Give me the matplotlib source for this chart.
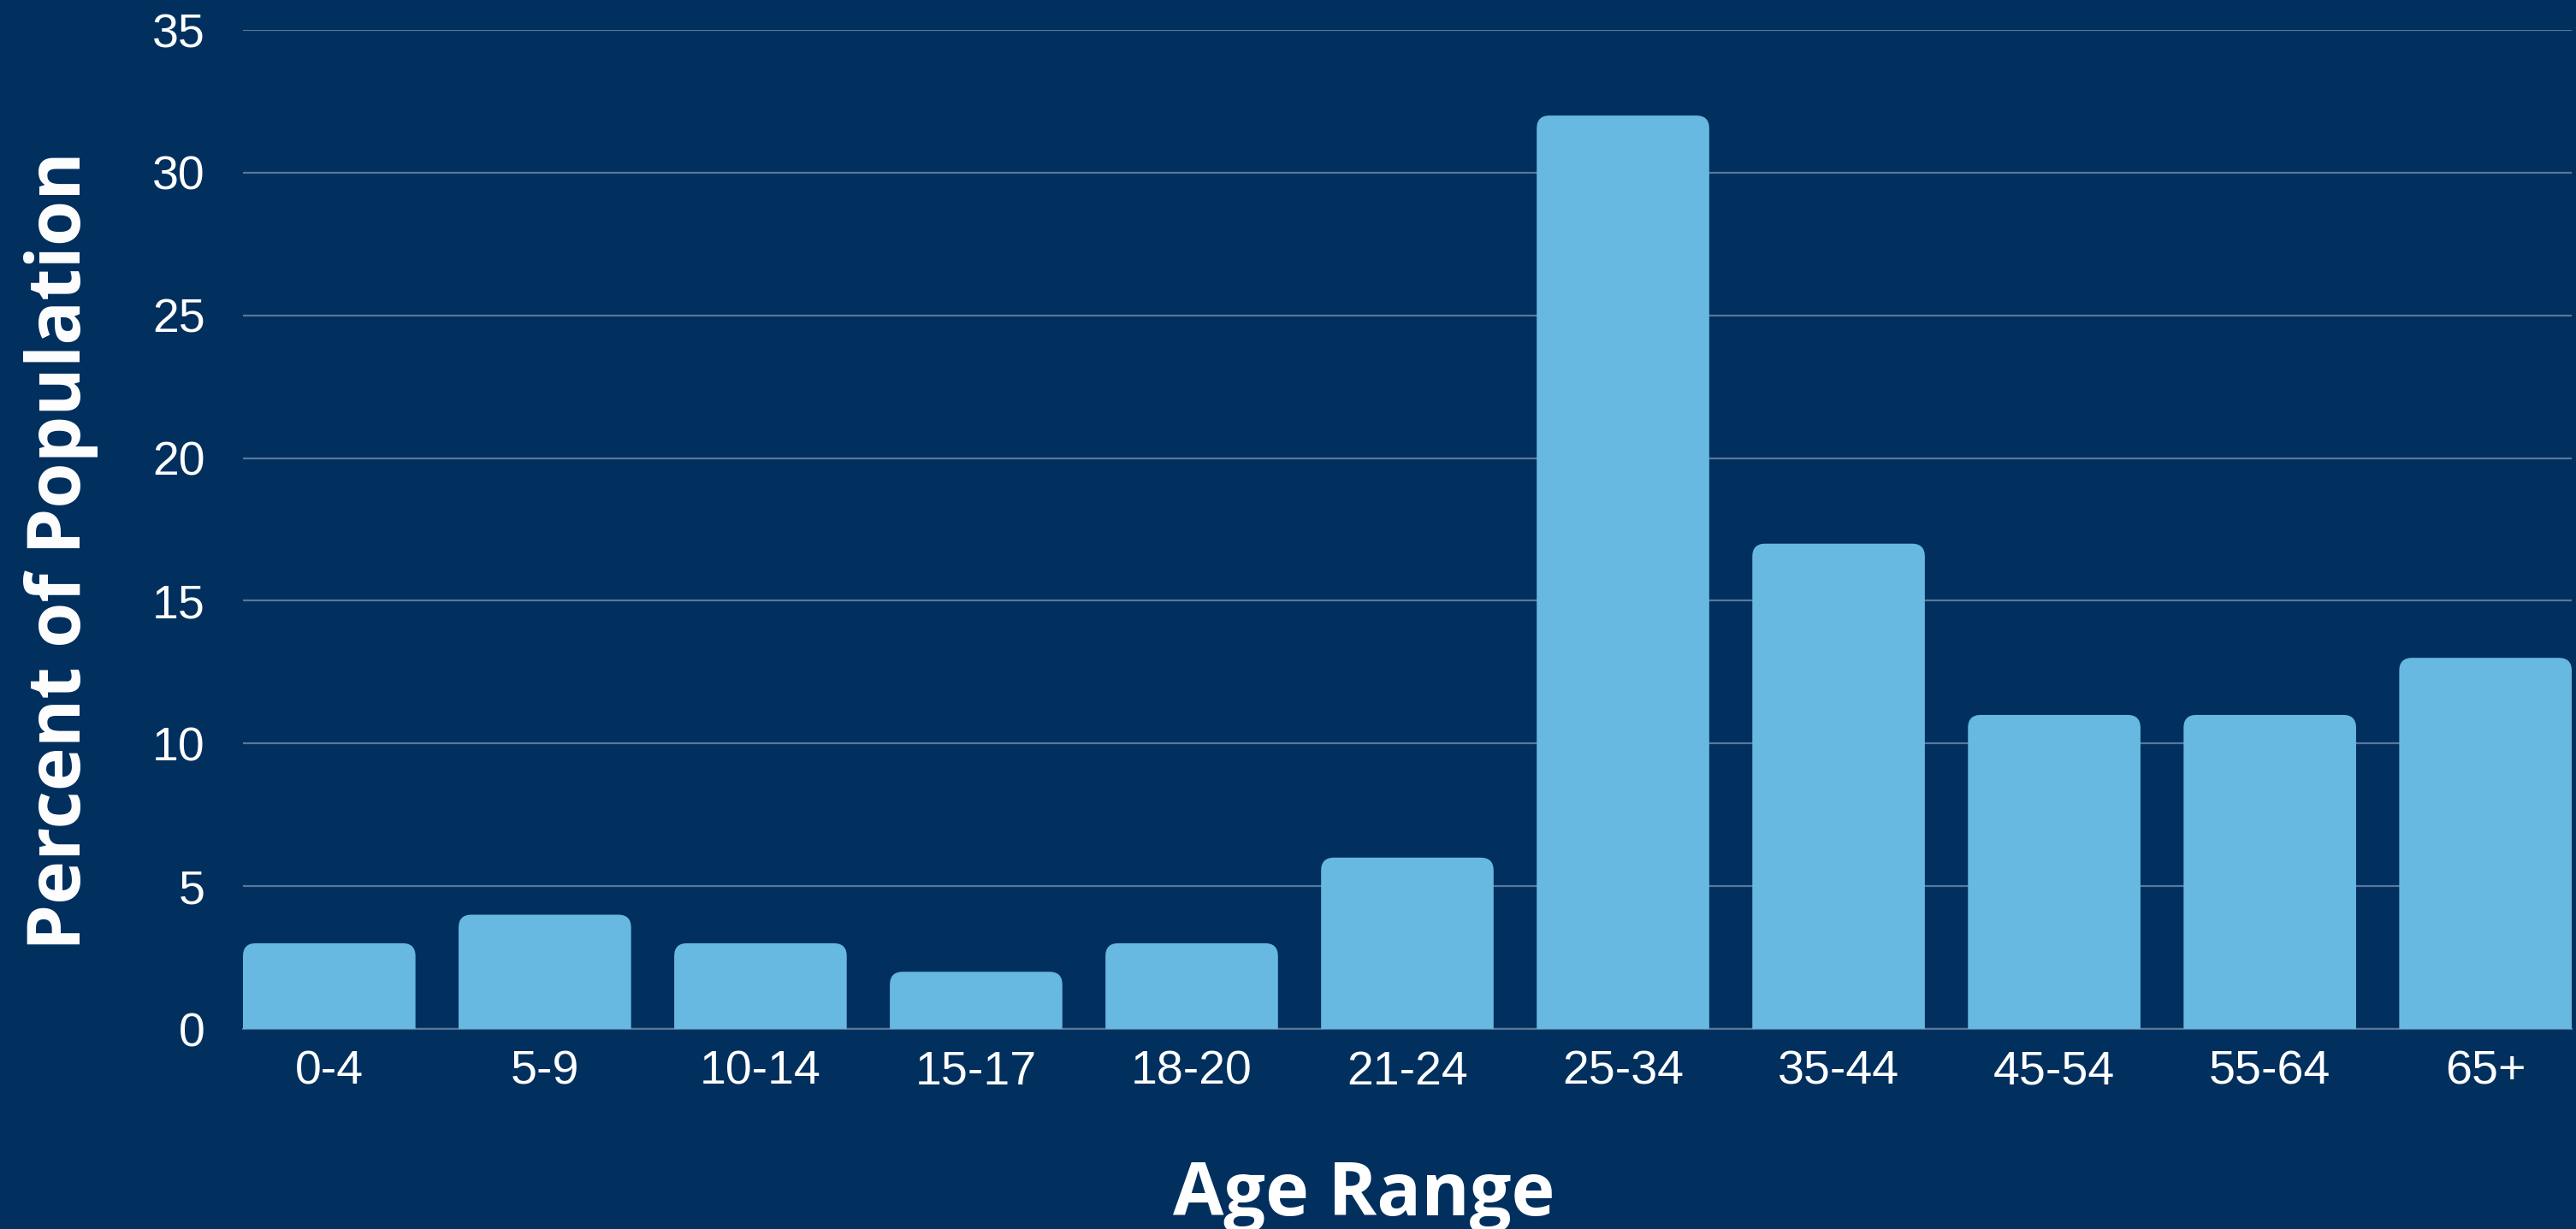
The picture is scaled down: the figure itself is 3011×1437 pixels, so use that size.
import matplotlib.pyplot as plt
from matplotlib.patches import FancyBboxPatch

# data
age_ranges = ['0-4', '5-9', '10-14', '15-17', '18-20', '21-24',
              '25-34', '35-44', '45-54', '55-64', '65+']
percent = [3, 4, 3, 2, 3, 6, 32, 17, 11, 11, 13]
y_ticks = [0, 5, 10, 15, 20, 25, 30, 35]

bg = '#01305f'
bar_color = '#68b9e2'

fig = plt.figure(figsize=(30.11, 14.37), dpi=100, facecolor=bg)
ax = fig.add_axes([284 / 3011, 234 / 1437, 2722 / 3011, 1168 / 1437], facecolor=bg)

ax.set_xlim(-0.4, len(age_ranges) - 0.6)
ax.set_ylim(0, 35)

# rounded top corners: draw the box below zero so the bottom corners get clipped
px_x = 2722 / (len(age_ranges) - 0.2)
px_y = 1168 / 35
radius = 15 / px_x
w = 0.8
for i, v in enumerate(percent):
    p = FancyBboxPatch((i - w / 2, -2), w, v + 2,
                       boxstyle='round,pad=0,rounding_size=%f' % radius,
                       mutation_aspect=px_x / px_y,
                       fc=bar_color, ec='none', zorder=3)
    ax.add_patch(p)

ax.set_yticks(y_ticks)
ax.set_xticks(range(len(age_ranges)))
ax.set_xticklabels(age_ranges)
ax.tick_params(axis='both', length=0, colors='white', labelsize=40)
ax.tick_params(axis='y', pad=32)
ax.tick_params(axis='x', pad=18)
for lab in ax.get_xticklabels() + ax.get_yticklabels():
    lab.set_fontfamily('Liberation Sans')

ax.grid(axis='y', color='#5a7799', lw=1.6, zorder=1)
ax.set_axisbelow(True)
for spine in ('top', 'right', 'left'):
    ax.spines[spine].set_visible(False)
ax.spines['bottom'].set_color('#5a7799')
ax.spines['bottom'].set_linewidth(1.6)

fig.text(1594 / 3011, 1 - 1399 / 1437, 'Age Range', color='white', fontsize=62,
         fontweight='bold', family='Open Sans', ha='center', va='center')
fig.text(72 / 3011, 1 - 644 / 1437, 'Percent of Population', color='white', fontsize=62,
         fontweight='bold', family='Open Sans', ha='center', va='center', rotation=90)

fig.savefig('out.png', dpi=100, facecolor=bg)
